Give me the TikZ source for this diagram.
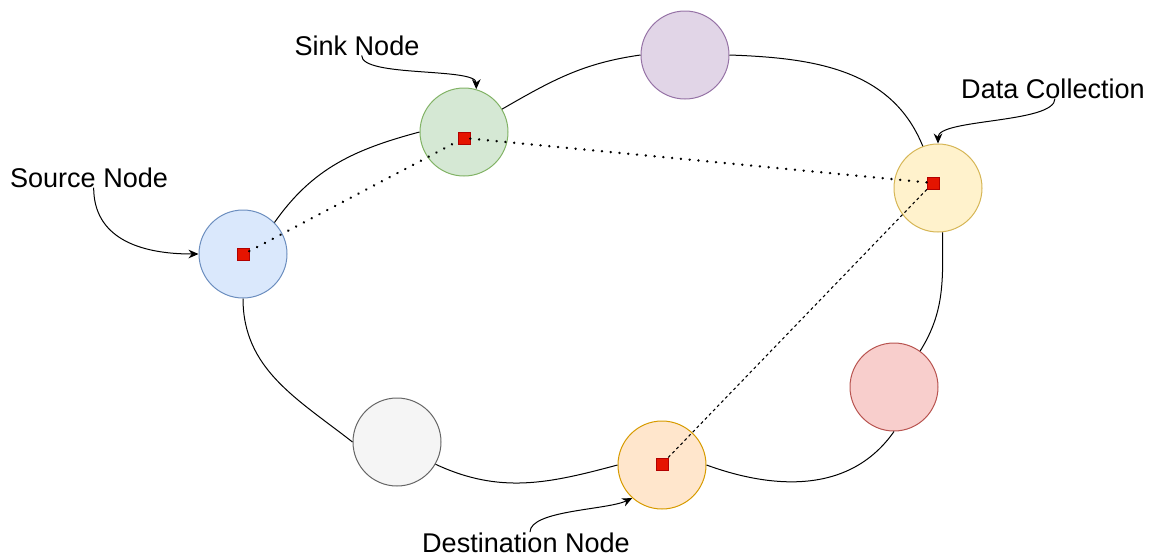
\documentclass[tikz,border=0pt]{standalone}
\usepackage{fontspec}
\setmainfont{Liberation Sans}
\usetikzlibrary{arrows.meta}

\definecolor{bluefill}{HTML}{DAE8FC}\definecolor{blueline}{HTML}{6C8EBF}
\definecolor{greenfill}{HTML}{D5E8D4}\definecolor{greenline}{HTML}{82B366}
\definecolor{purplefill}{HTML}{E1D5E7}\definecolor{purpleline}{HTML}{9673A6}
\definecolor{yellowfill}{HTML}{FFF2CC}\definecolor{yellowline}{HTML}{D6B656}
\definecolor{redfill}{HTML}{F8CECC}\definecolor{redline}{HTML}{B85450}
\definecolor{greyfill}{HTML}{F5F5F5}\definecolor{greyline}{HTML}{666666}
\definecolor{orangefill}{HTML}{FFE6CC}\definecolor{orangeline}{HTML}{D79B00}
\definecolor{pktfill}{HTML}{E51400}\definecolor{pktline}{HTML}{B20000}

\begin{document}
\begin{tikzpicture} [
    x=0.75pt, y=0.75pt,
    peer/.style={circle,minimum size=66pt,inner sep=0pt,line width=0.75pt},
    pkt/.style={rectangle,minimum size=9pt,inner sep=0pt,fill=pktfill,draw=pktline,line width=0.5pt},
    lbl/.style={font=\fontsize{20.3}{24}\selectfont,inner sep=0pt,anchor=base},
    ring/.style={line width=0.75pt},
    pointer/.style={line width=0.75pt,-{Stealth[length=7.5pt,width=6.5pt]}},
    hop/.style={line width=2pt,line cap=round,dash pattern=on 0.01pt off 6.6pt},
    relay/.style={line width=0.8pt,dash pattern=on 2.2pt off 2.2pt},
    ]
    \useasboundingbox (0,0) rectangle (1153,-558);
    % Nodes on the ring
    \node[peer,fill=bluefill,draw=blueline] (src) at (243,-254) {};
    \node[peer,fill=greenfill,draw=greenline] (snk) at (464,-132) {};
    \node[peer,fill=purplefill,draw=purpleline] (prp) at (685,-55) {};
    \node[peer,fill=yellowfill,draw=yellowline] (col) at (938,-188) {};
    \node[peer,fill=redfill,draw=redline] (red) at (894,-387) {};
    \node[peer,fill=greyfill,draw=greyline] (gry) at (397,-442) {};
    \node[peer,fill=orangefill,draw=orangeline] (dst) at (662,-465) {};
    % Ring links
    \draw[ring] (src.45) to[out=55,in=195] (snk.west);
    \draw[ring] (snk.31) to[out=30,in=188] (prp.west);
    \draw[ring] (prp.east) to[out=-2,in=112] (col.110);
    \draw[ring] (col.-84) to[out=-90,in=58] (red.54);
    \draw[ring] (red.south) to[out=-125,in=-20] (dst.east);
    \draw[ring] (gry.-30) to[out=-25,in=195] (dst.west);
    \draw[ring] (src.south) to[out=-90,in=142] (gry.west);
    % Packets and route
    \node[pkt] (psrc) at (243,-254.5) {};
    \node[pkt] (psnk) at (464,-138) {};
    \node[pkt] (pcol) at (933,-183) {};
    \node[pkt] (pdst) at (662,-464) {};
    \draw[hop] (psrc) -- (psnk);
    \draw[hop] (psnk) -- (pcol);
    \draw[relay] (pcol) -- (pdst);
    % Labels
    \node[lbl] (lsnk) at (357,-55) {Sink Node};
    \node[lbl] (lsrc) at (89,-187) {Source Node};
    \node[lbl] (lcol) at (1053,-98) {Data Collection};
    \node[lbl] (ldst) at (526,-552) {Destination Node};
    \draw[pointer] ([xshift=3.5pt]lsnk.south) .. controls +(0,-22) and +(0,22) .. (snk.74);
    \draw[pointer] ([xshift=3.5pt]lsrc.south) .. controls +(0,-50) and +(-60,0) .. (src.west);
    \draw[pointer] ([xshift=1.5pt]lcol.south) .. controls +(0,-25) and +(0,25) .. (col.north);
    \draw[pointer] ([xshift=3pt]ldst.north) .. controls +(0,22) and +(-25,-12) .. (dst.-132);
\end{tikzpicture}
\end{document}
